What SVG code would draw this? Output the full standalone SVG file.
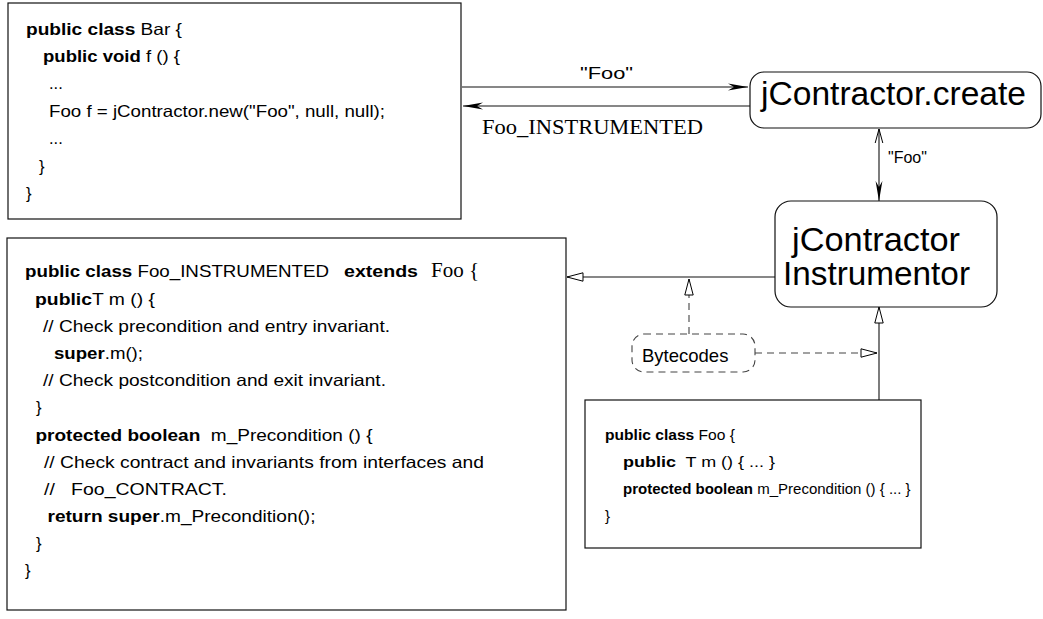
<svg xmlns="http://www.w3.org/2000/svg" width="1043" height="619" viewBox="0 0 1043 619">
<style>
  .box { fill: #fff; stroke: #111; stroke-width: 1.2; }
  .code { font-family: "Liberation Sans", Arial, sans-serif; font-size: 16.5px; fill: #000; white-space: pre; }
  .small { font-family: "Liberation Sans", Arial, sans-serif; font-size: 15px; fill: #000; white-space: pre; }
  .b { font-weight: bold; }
  .serif { font-family: "Liberation Serif", "Times New Roman", serif; fill: #000; }
  .big { font-family: "Liberation Sans", Arial, sans-serif; font-size: 33px; fill: #000; }
  .lbl { font-family: "Liberation Sans", Arial, sans-serif; font-size: 16px; fill: #000; }
  .conn { fill: none; stroke: #111; stroke-width: 1.1; }
  .dash { fill: none; stroke: #444; stroke-width: 1.1; stroke-dasharray: 7 5; }
</style>
<defs>
  <marker id="stealth" markerUnits="userSpaceOnUse" markerWidth="22" markerHeight="10" refX="20" refY="5" orient="auto-start-reverse">
    <path d="M0,1.6 L20,5 L0,8.4 L6,5 z" fill="#000"/>
  </marker>
  <marker id="vee" markerUnits="userSpaceOnUse" markerWidth="16" markerHeight="10" refX="14" refY="5" orient="auto">
    <path d="M0,1.2 L14,5 L0,8.8" fill="none" stroke="#000" stroke-width="1"/>
  </marker>
  <marker id="tri" markerUnits="userSpaceOnUse" markerWidth="20" markerHeight="12" refX="17" refY="6" orient="auto">
    <path d="M1,1.8 L17,6 L1,10.2 z" fill="#fff" stroke="#000" stroke-width="1"/>
  </marker>
</defs>

<g id="connectors">
  <path class="conn" d="M462,87 L748,87" marker-end="url(#stealth)"/>
  <path class="conn" d="M750,106 L463,106" marker-end="url(#stealth)"/>
  <text class="lbl" x="580" y="79" textLength="53" lengthAdjust="spacingAndGlyphs">"Foo"</text>
  <text class="serif" x="482" y="134" font-size="21" textLength="221" lengthAdjust="spacingAndGlyphs">Foo_INSTRUMENTED</text>
  <path class="conn" d="M879,201 L879,129" stroke="#555" marker-end="url(#vee)" marker-start="url(#stealth)"/>
  <text class="lbl" x="888" y="163">"Foo"</text>
  <path class="conn" d="M775,277 L567,277" marker-end="url(#tri)"/>
  <path class="conn" d="M879,400 L879,307" marker-end="url(#tri)"/>
  <path class="dash" d="M689,334 L689,279" marker-end="url(#tri)"/>
  <path class="dash" d="M755,353 L877,353" marker-end="url(#tri)"/>
</g>

<g id="bar">
  <rect class="box" x="8" y="3" width="453" height="216"/>
  <text class="code" x="26" y="35" textLength="156" lengthAdjust="spacingAndGlyphs"><tspan class="b">public class</tspan> Bar {</text>
  <text class="code" x="43" y="62" textLength="137" lengthAdjust="spacingAndGlyphs"><tspan class="b">public void</tspan> f () {</text>
  <text class="code" x="49" y="89">...</text>
  <text class="code" x="49" y="116.5" textLength="336" lengthAdjust="spacingAndGlyphs">Foo f = jContractor.new("Foo", null, null);</text>
  <text class="code" x="49" y="144">...</text>
  <text class="code" x="39" y="171.5">}</text>
  <text class="code" x="26" y="199">}</text>
</g>

<g id="create">
  <rect class="box" x="750" y="72" width="291" height="56" rx="14"/>
  <text class="big" x="761" y="105" textLength="265" lengthAdjust="spacingAndGlyphs">jContractor.create</text>
</g>

<g id="instrumentor">
  <rect class="box" x="775" y="201" width="222" height="106" rx="16"/>
  <text class="big" x="792" y="251" textLength="168" lengthAdjust="spacingAndGlyphs">jContractor</text>
  <text class="big" x="783" y="285" textLength="187" lengthAdjust="spacingAndGlyphs">Instrumentor</text>
</g>

<g id="bytecodes">
  <rect x="632" y="334" width="123" height="38" rx="12" fill="#fff" stroke="#444" stroke-width="1.1" stroke-dasharray="7 5"/>
  <text class="lbl" x="642" y="362" style="font-size:18.5px">Bytecodes</text>
</g>

<g id="foo-instrumented">
  <rect class="box" x="7" y="238" width="559" height="372"/>
  <text class="code" x="25" y="277" textLength="304" lengthAdjust="spacingAndGlyphs"><tspan class="b">public class</tspan> Foo_INSTRUMENTED</text>
  <text class="code b" x="344" y="277" textLength="74" lengthAdjust="spacingAndGlyphs">extends</text>
  <text class="serif" x="431" y="277" font-size="21">Foo {</text>
  <text class="code" x="35" y="304.5" textLength="120" lengthAdjust="spacingAndGlyphs"><tspan class="b">public</tspan>T m () {</text>
  <text class="code" x="43" y="331.5" textLength="347" lengthAdjust="spacingAndGlyphs">// Check precondition and entry invariant.</text>
  <text class="code" x="54" y="359" textLength="89" lengthAdjust="spacingAndGlyphs"><tspan class="b">super</tspan>.m();</text>
  <text class="code" x="43" y="386" textLength="343" lengthAdjust="spacingAndGlyphs">// Check postcondition and exit invariant.</text>
  <text class="code" x="36" y="413">}</text>
  <text class="code" x="35.5" y="440.5" textLength="337" lengthAdjust="spacingAndGlyphs"><tspan class="b">protected boolean</tspan>  m_Precondition () {</text>
  <text class="code" x="44" y="467.5" textLength="440" lengthAdjust="spacingAndGlyphs">// Check contract and invariants from interfaces and</text>
  <text class="code" x="44" y="495" textLength="183" lengthAdjust="spacingAndGlyphs">//   Foo_CONTRACT.</text>
  <text class="code" x="47.5" y="522" textLength="268" lengthAdjust="spacingAndGlyphs"><tspan class="b">return super</tspan>.m_Precondition();</text>
  <text class="code" x="36" y="549">}</text>
  <text class="code" x="25" y="576">}</text>
</g>

<g id="foo">
  <rect class="box" x="585" y="400" width="336" height="148"/>
  <text class="small" x="605" y="440" textLength="130" lengthAdjust="spacingAndGlyphs"><tspan class="b">public class</tspan> Foo {</text>
  <text class="small" x="623" y="467" textLength="152" lengthAdjust="spacingAndGlyphs"><tspan class="b">public</tspan>  T m () { ... }</text>
  <text class="small" x="623" y="494"><tspan class="b">protected</tspan> <tspan class="b">boolean</tspan> m_Precondition () { ... }</text>
  <text class="small" x="605" y="521">}</text>
</g>
</svg>
